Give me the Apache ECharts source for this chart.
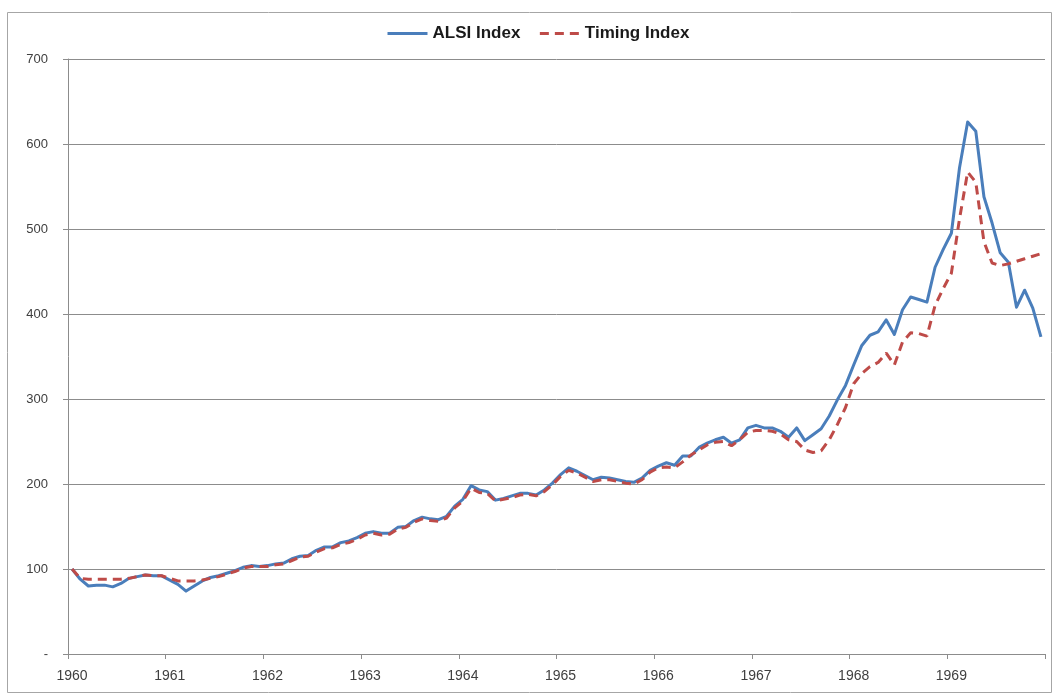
<!DOCTYPE html>
<html>
<head>
<meta charset="utf-8">
<title>ALSI Index vs Timing Index</title>
<script src="https://cdn.jsdelivr.net/npm/echarts@6/dist/echarts.min.js"></script>
<style>
  html, body { margin: 0; padding: 0; background: #ffffff; }
  #chart { width: 1055px; height: 697px; }
</style>
</head>
<body>
<div id="chart"></div>
<script>
// Monthly observations, January 1960 to December 1969
const years = [1960, 1961, 1962, 1963, 1964, 1965, 1966, 1967, 1968, 1969];

const alsiIndex = [
  100, 88, 80, 81, 81, 79, 83, 89, 91, 93, 92, 92,
  87, 82, 74, 80, 86, 90, 92, 95, 98, 102, 104, 103,
  104, 106, 107, 112, 115, 116, 122, 126, 126, 131, 133, 137,
  142, 144, 142, 142, 149, 150, 157, 161, 159, 158, 162, 174,
  182, 198, 193, 191, 181, 183, 186, 189, 189, 187, 193, 201,
  211, 219, 215, 210, 205, 208, 207, 205, 203, 202, 207, 216,
  221, 225, 222, 233, 233, 243, 248, 252, 255, 248, 252, 266,
  269, 266, 266, 262, 255, 266, 251, 258, 265, 280, 299, 316,
  340, 363, 375, 379, 393, 376, 405, 420, 417, 414, 455, 476,
  495, 572, 626, 615, 538, 507, 472, 461, 408, 428, 407, 373
];

const timingIndex = [
  100, 89, 88, 88, 88, 88, 88, 89, 91, 93, 92, 92,
  89, 86, 86, 86, 87, 89, 91, 94, 97, 101, 103, 103,
  103, 105, 106, 110, 114, 115, 120, 124, 125, 129, 131, 135,
  140, 142, 140, 141, 147, 149, 155, 159, 157, 156, 160, 172,
  180, 195, 190, 189, 180, 182, 184, 187, 188, 186, 191, 199,
  209, 216, 213, 208, 203, 205, 205, 203, 201, 200, 205, 214,
  219, 220, 219, 226, 234, 240, 246, 249, 250, 245, 252, 261,
  263, 263, 262, 259, 252, 250, 240, 237, 239, 252, 270, 290,
  318, 330, 338, 343, 354, 340, 367, 378, 377, 374, 410, 430,
  448, 512, 567, 555, 485, 460, 457, 459, 462, 465, 468, 471
];

// One category per month, labelled "YYYY-MM"
const months = [];
years.forEach(function (y) {
  for (let m = 1; m <= 12; m++) {
    months.push(y + '-' + (m < 10 ? '0' + m : m));
  }
});

const chart = echarts.init(document.getElementById('chart'), null, { renderer: 'canvas' });

const axisGray = '#8c8c8c';
const textColor = '#404040';
const baseFont = 'Arial, "Liberation Sans", sans-serif';

chart.setOption({
  backgroundColor: '#ffffff',
  animation: false,
  graphic: [{
    type: 'rect',
    shape: { x: 7.5, y: 12.5, width: 1044, height: 680 },
    style: { fill: 'none', stroke: '#a6a6a6', lineWidth: 1 },
    silent: true
  }],
  legend: {
    left: 381,
    top: 20,
    orient: 'horizontal',
    itemWidth: 40,
    itemHeight: 14,
    itemGap: 18,
    // plain line keys: hide the marker drawn on top of each key line
    itemStyle: { color: 'transparent', borderColor: 'transparent', borderWidth: 0, opacity: 0 },
    lineStyle: { width: 3 },
    textStyle: {
      fontFamily: '"Liberation Sans Narrow", "Arial Narrow", ' + baseFont,
      fontWeight: 'bold',
      fontSize: 17,
      color: '#1a1a1a'
    },
    data: ['ALSI Index', 'Timing Index']
  },
  grid: {
    left: 68,
    right: 10,
    top: 59,
    bottom: 43,
    containLabel: false
  },
  xAxis: {
    type: 'category',
    data: months,
    boundaryGap: true,
    axisLine: { show: true, lineStyle: { color: axisGray, width: 1 } },
    axisTick: { show: true, interval: 11, length: 5, lineStyle: { color: axisGray } },
    axisLabel: {
      interval: 11,
      margin: 15,
      fontSize: 14,
      fontFamily: baseFont,
      color: textColor,
      formatter: function (v) { return v.slice(0, 4); }
    },
    splitLine: { show: false }
  },
  yAxis: {
    type: 'value',
    min: 0,
    max: 700,
    interval: 100,
    axisLine: { show: true, lineStyle: { color: axisGray, width: 1 } },
    axisTick: { show: true, length: 5, lineStyle: { color: axisGray } },
    axisLabel: {
      margin: 20,
      fontSize: 13,
      fontFamily: baseFont,
      color: textColor,
      formatter: function (v) { return v === 0 ? '-' : String(v); }
    },
    splitLine: { show: true, lineStyle: { color: '#8c8c8c', width: 1 } }
  },
  series: [
    {
      name: 'ALSI Index',
      type: 'line',
      data: alsiIndex,
      showSymbol: false,
      symbol: 'none',
      z: 3,
      lineStyle: { color: '#4a7ebb', width: 3, join: 'round' },
      itemStyle: { color: '#4a7ebb' }
    },
    {
      name: 'Timing Index',
      type: 'line',
      data: timingIndex,
      showSymbol: false,
      symbol: 'none',
      z: 4,
      lineStyle: { color: '#be4b48', width: 3, type: [9, 6] },
      itemStyle: { color: '#be4b48' }
    }
  ]
});
</script>
</body>
</html>
